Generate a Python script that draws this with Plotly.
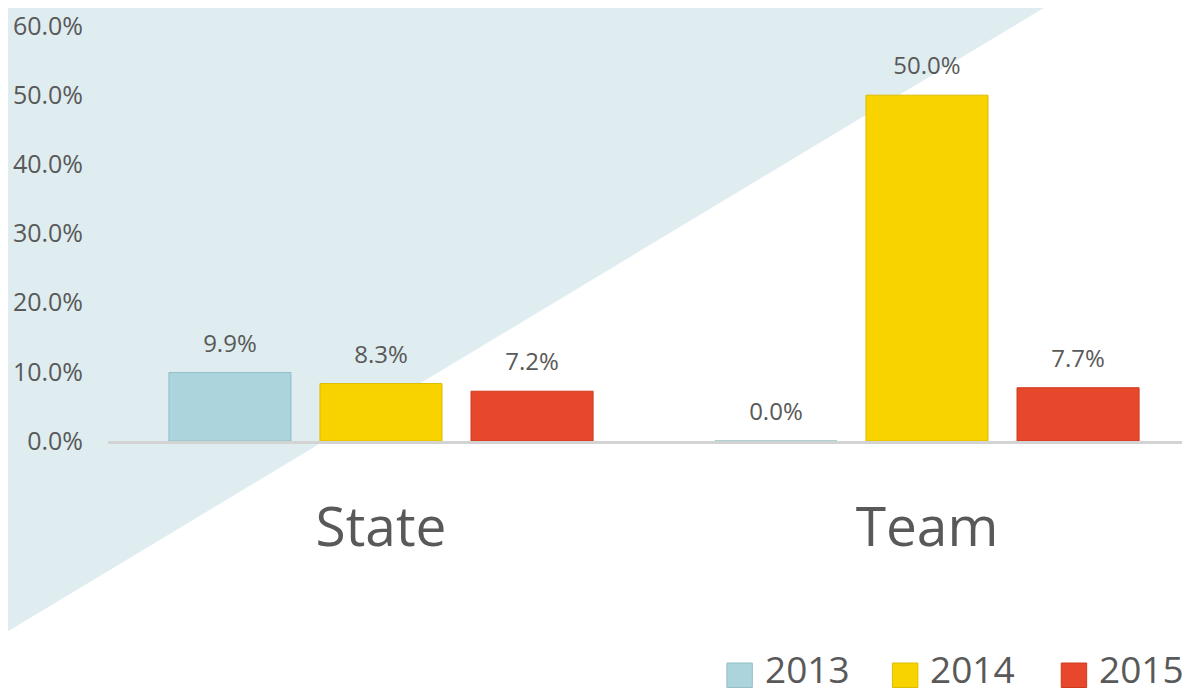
import plotly.graph_objects as go

# data
categories = ["State", "Team"]
years = ["2013", "2014", "2015"]
values_2013 = [0.099, 0.0]
values_2014 = [0.083, 0.50]
values_2015 = [0.072, 0.077]
y_ticks = [0.0, 0.1, 0.2, 0.3, 0.4, 0.5, 0.6]

colors = ["#acd4dc", "#f8d300", "#e7472a"]
edge_colors = ["#93bfc8", "#dcbc00", "#cf3a1f"]
series = [values_2013, values_2014, values_2015]

TEXT_COLOR = "#595959"
FONT = "Open Sans"

fig = go.Figure()

for year, vals, col, edge in zip(years, series, colors, edge_colors):
    fig.add_trace(go.Bar(
        name=year,
        x=categories,
        y=vals,
        marker=dict(color=col, line=dict(color=edge, width=1)),
        # small blank second line lifts the label a bit off the bar
        texttemplate="<span style='font-size:24px'>%{y:.1%}</span><br><span style='font-size:4px'> </span>",
        textposition="outside",
        textfont=dict(size=13, color=TEXT_COLOR, family=FONT),
        cliponaxis=False,
        showlegend=False,
    ))

# diagonal background triangle (top-left)
fig.add_shape(
    type="path",
    path="M -0.0998 1.0525 L 0.8706 1.0525 L -0.0998 -0.4702 Z",
    xref="paper", yref="paper",
    fillcolor="#dfedf0", line=dict(width=0), layer="below",
)

# custom legend: swatches + labels
legend_x = [0.572, 0.725, 0.881]
for year, col, edge, lx in zip(years, colors, edge_colors, legend_x):
    fig.add_shape(
        type="rect", xref="paper", yref="paper",
        x0=lx, x1=lx + 0.0235, y0=-0.594, y1=-0.535,
        fillcolor=col, line=dict(color=edge, width=1),
    )
    fig.add_annotation(
        x=lx + 0.033, y=-0.615, xref="paper", yref="paper",
        text=year, showarrow=False, xanchor="left", yanchor="bottom",
        font=dict(size=37, color=TEXT_COLOR, family=FONT),
    )

# page body has an 8px margin, so the figure is 8px smaller than the window
fig.update_layout(
    width=1182,
    height=692,
    margin=dict(l=100, r=0, t=14, b=259),
    paper_bgcolor="white",
    plot_bgcolor="rgba(0,0,0,0)",
    barmode="group",
    bargap=0.17,
    bargroupgap=0.192,
    font=dict(family=FONT, color=TEXT_COLOR),
    xaxis=dict(
        range=[-0.5, -0.5 + 1082 / 546],
        showline=True, linecolor="#d3d3d3", linewidth=3,
        ticks="", showgrid=False, zeroline=False,
        tickfont=dict(size=55, color=TEXT_COLOR, family=FONT),
        ticklabelstandoff=36,
    ),
    yaxis=dict(
        range=[0, 0.6],
        tickvals=y_ticks,
        tickformat=".1%",
        showgrid=False, zeroline=False, showline=False,
        ticks="",
        tickfont=dict(size=25, color=TEXT_COLOR, family=FONT),
        ticklabelstandoff=24,
        ticklabeloverflow="allow",
    ),
)

fig.write_html("out.html")
